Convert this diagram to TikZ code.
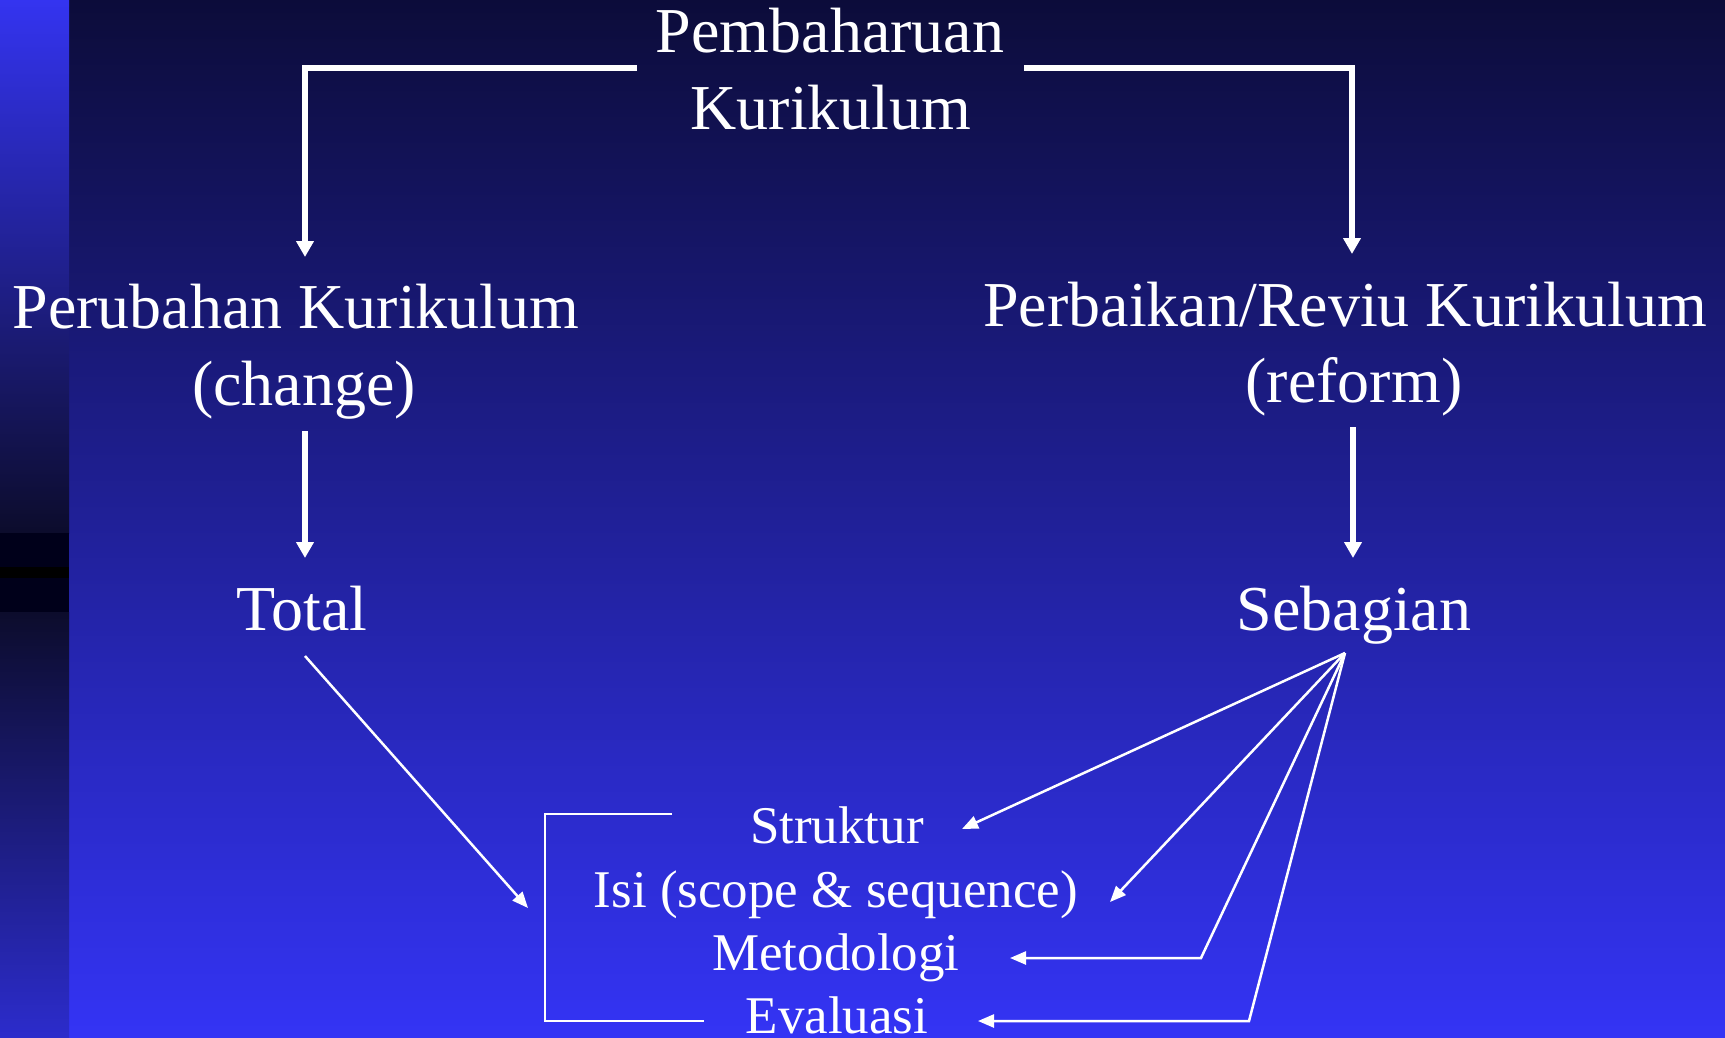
\documentclass[tikz,border=0pt]{standalone}
\usepackage{fontspec}
\setmainfont{Liberation Serif}
\usetikzlibrary{arrows.meta}
\definecolor{bgtop}{HTML}{0C0C3A}
\definecolor{bgmid}{HTML}{2222B4}
\definecolor{bgbot}{HTML}{3434F5}
\definecolor{stA}{HTML}{3434F0}
\definecolor{stB}{HTML}{0C0C2C}
\definecolor{stC}{HTML}{00001A}
\definecolor{stK}{HTML}{000000}
\definecolor{stD}{HTML}{0C0C2C}
\definecolor{stE}{HTML}{2C2CCC}
\tikzset{
  bigtxt/.style={text=white, font=\fontsize{64}{77}\selectfont, inner sep=0pt, anchor=base},
  smalltxt/.style={text=white, font=\fontsize{53}{64}\selectfont, inner sep=0pt, anchor=base},
  thickarrow/.style={draw=white, line width=5.5pt, -{Triangle[width=17pt,length=16pt]}},
  thinarrow/.style={draw=white, line width=2.5pt, -{Triangle[width=13pt,length=16pt]}},
  thinline/.style={draw=white, line width=2.5pt},
}
\begin{document}
\begin{tikzpicture}[x=1pt,y=-1pt]
\useasboundingbox (0,0) rectangle (1725,1038);
% background
\shade[top color=bgtop, middle color=bgmid, bottom color=bgbot] (0,0) rectangle (1725,1038);
\shade[top color=stA, bottom color=stB] (0,0) rectangle (69,533);
\fill[stC] (0,533) rectangle (69,612);
\fill[stK] (0,567) rectangle (69,578);
\shade[top color=stD, bottom color=stE] (0,612) rectangle (69,1038);

% texts
\node[bigtxt] (pemb) at (830,53) {Pembaharuan};
\node[bigtxt] (kur) at (831,130) {Kurikulum};
\node[bigtxt] (perub) at (296,328) {Perubahan Kurikulum};
\node[bigtxt] (change) at (304,405) {(change)};
\node[bigtxt] (perb) at (1345,326) {Perbaikan/Reviu Kurikulum};
\node[bigtxt] (reform) at (1354,402) {(reform)};
\node[bigtxt] (total) at (302,630) {Total};
\node[bigtxt] (sebag) at (1354,630) {Sebagian};
\node[smalltxt] (struk) at (837,843) {Struktur};
\node[smalltxt] (isi) at (836,907) {Isi (scope \& sequence)};
\node[smalltxt] (meto) at (836,970) {Metodologi};
\node[smalltxt] (eval) at (837,1033) {Evaluasi};

% connection points
\coordinate (pL) at (637,68);
\coordinate (pR) at (1024,68);
\coordinate (perubTop) at (305,257);
\coordinate (perbTop) at (1352,254);
\coordinate (changeBot) at (305,431);
\coordinate (totalTop) at (305,558);
\coordinate (reformBot) at (1353,427);
\coordinate (sebagTop) at (1353,558);
\coordinate (totalBot) at (305,656);
\coordinate (listIn) at (528,908);
\coordinate (apex) at (1345,653);
\coordinate (strukR) at (962,829);
\coordinate (isiR) at (1110,902);
\coordinate (metoC) at (1201,958);
\coordinate (metoR) at (1010,958);
\coordinate (evalC) at (1249,1021);
\coordinate (evalR) at (978,1021);
\coordinate (brTop) at (672,814);
\coordinate (brBot) at (704,1021);

% connectors
\draw[thickarrow] (pL) -| (perubTop);
\draw[thickarrow] (pR) -| (perbTop);
\draw[thickarrow] (changeBot) -- (totalTop);
\draw[thickarrow] (reformBot) -- (sebagTop);
\draw[thinarrow] (totalBot) -- (listIn);
\draw[thinarrow] (apex) -- (strukR);
\draw[thinarrow] (apex) -- (isiR);
\draw[thinarrow] (apex) -- (metoC) -- (metoR);
\draw[thinarrow] (apex) -- (evalC) -- (evalR);
\draw[thinline] (brTop) -- (545,814) -- (545,1021) -- (brBot);
\end{tikzpicture}
\end{document}
